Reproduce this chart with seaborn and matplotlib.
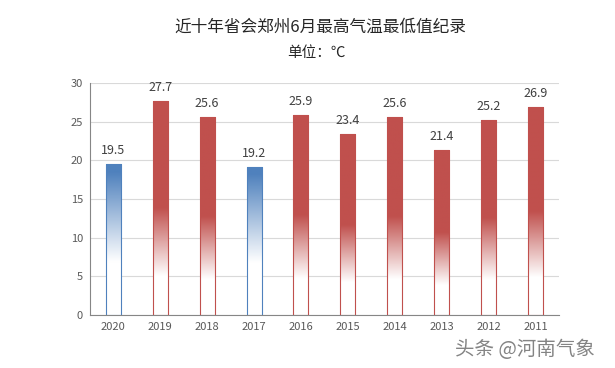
import numpy as np
import pandas as pd
import matplotlib
matplotlib.use('Agg')
import matplotlib.pyplot as plt
import seaborn as sns
from matplotlib.colors import LinearSegmentedColormap

sns.set_theme(style="white")
plt.rcParams['font.family'] = ['Noto Sans CJK SC', 'DejaVu Sans']

# 数据
years = ['2020', '2019', '2018', '2017', '2016', '2015', '2014', '2013', '2012', '2011']
temps = [19.5, 27.7, 25.6, 19.2, 25.9, 23.4, 25.6, 21.4, 25.2, 26.9]
kinds = ['low', 'high', 'high', 'low', 'high', 'high', 'high', 'high', 'high', 'high']

colors = {'low': '#4F81BD', 'high': '#C0504D'}
# 渐变范围 (白色起点, 实色起点), 按柱高比例
fade = {'low': (0.35, 0.95), 'high': (0.18, 0.50)}

df = pd.DataFrame({'year': years, 'temp': temps, 'kind': kinds})

fig = plt.figure(figsize=(6.15, 3.68), dpi=100)
ax = fig.add_axes([0.146, 0.144, 0.763, 0.630])

sns.barplot(data=df, x='year', y='temp', hue='kind', palette=colors,
            order=years, dodge=False, width=0.32, legend=False, ax=ax)

ax.set_ylim(0, 30)
ax.set_xlim(-0.5, len(years) - 0.5)

# 每根柱子做上深下白的渐变
for patch in ax.patches:
    x0, y0 = patch.get_x(), patch.get_y()
    w, h = patch.get_width(), patch.get_height()
    if h <= 0:
        continue
    idx = int(round(x0 + w / 2))
    kind = kinds[idx]
    c = colors[kind]
    lo, hi = fade[kind]
    cmap = LinearSegmentedColormap.from_list('g', ['white', c])
    f = np.linspace(0, 1, 256)
    vals = np.clip((f - lo) / (hi - lo), 0, 1)
    img = vals[::-1].reshape(-1, 1)
    im = ax.imshow(img, cmap=cmap, vmin=0, vmax=1, aspect='auto',
                   extent=[x0, x0 + w, y0, y0 + h], zorder=patch.get_zorder(),
                   interpolation='bilinear')
    im.set_clip_path(patch)
    patch.set_facecolor('none')
    patch.set_edgecolor(c)
    patch.set_linewidth(0.8)
    patch.set_zorder(patch.get_zorder() + 0.1)

ax.set_xlim(-0.5, len(years) - 0.5)
ax.set_ylim(0, 30)

for cont in ax.containers:
    ax.bar_label(cont, fmt='%.1f', padding=5, fontsize=9, color='#404040')

ax.set_yticks(range(0, 31, 5))
ax.yaxis.grid(True, color='#D9D9D9', linewidth=0.8)
ax.set_axisbelow(True)
ax.set_xlabel('')
ax.set_ylabel('')
ax.tick_params(axis='both', labelsize=8, colors='#595959', length=0, pad=5)
for s in ['top', 'right']:
    ax.spines[s].set_visible(False)
ax.spines['left'].set_color('#868686')
ax.spines['bottom'].set_color('#868686')
ax.spines['left'].set_linewidth(0.8)
ax.spines['bottom'].set_linewidth(0.8)

fig.text(0.52, 0.925, '近十年省会郑州6月最高气温最低值纪录', ha='center', va='center',
         fontsize=12, color='#262626')
fig.text(0.515, 0.855, '单位：℃', ha='center', va='center', fontsize=10.5, color='#262626')

# 水印
fig.text(0.74, 0.05, '头条 @河南气象', ha='left', va='center',
         fontsize=14, color='#6E6E6E', alpha=0.85)

fig.savefig('out.png', dpi=100)
